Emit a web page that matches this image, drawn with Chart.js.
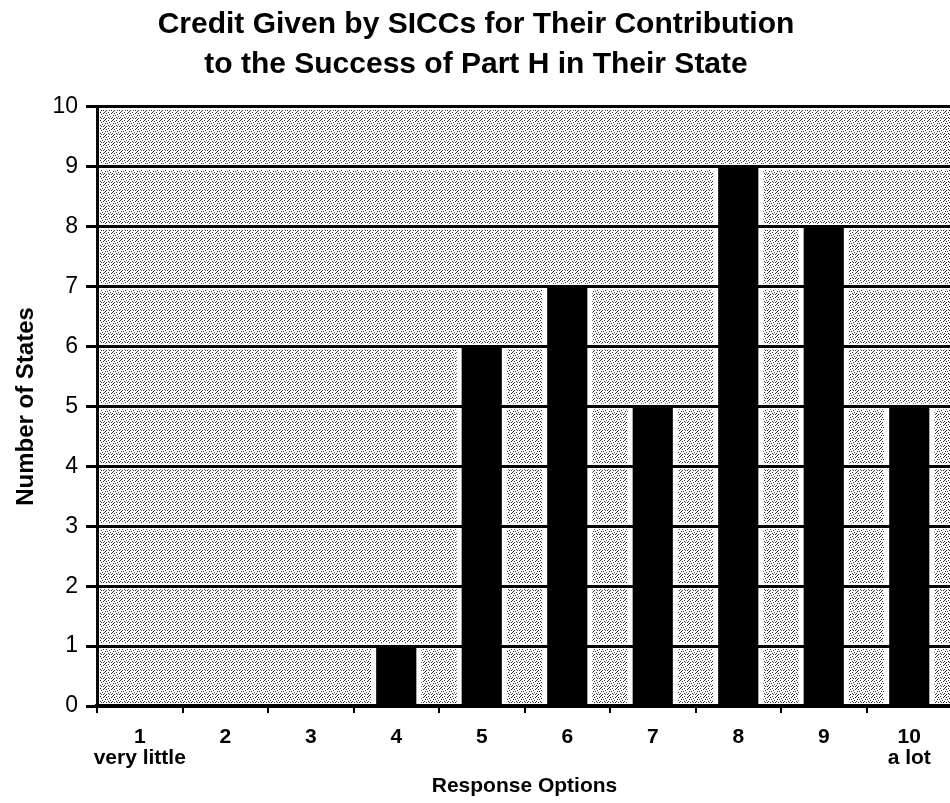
<!DOCTYPE html>
<html>
<head>
<meta charset="utf-8">
<script src="https://cdn.jsdelivr.net/npm/chart.js@4/dist/chart.umd.min.js"></script>
<style>
  html, body { margin: 0; padding: 0; background: #fff; overflow: hidden; }
  #wrap { width: 960px; height: 803px; }
</style>
</head>
<body>
<div id="wrap"><canvas id="c" width="960" height="803"></canvas></div>
<script>
// Survey responses: how many states chose each rating (1 = very little, 10 = a lot)
const responseOptions = [['1', 'very little'], '2', '3', '4', '5', '6', '7', '8', '9', ['10', 'a lot']];
const numberOfStates = [0, 0, 0, 1, 6, 7, 5, 9, 8, 5];
const yTicks = [0, 1, 2, 3, 4, 5, 6, 7, 8, 9, 10];
const titleLines = ['Credit Given by SICCs for Their Contribution', 'to the Success of Part H in Their State'];

const FONT = "'Liberation Sans', Arial, Helvetica, sans-serif";

// Stippled fill used behind the bars
function makeStipple() {
  const rows = [
    '#...#...',
    '..#....#',
    '.....#..',
    '.#.#....',
    '......#.',
    '#...#...',
    '..#..#.#',
    '.#......'
  ];
  const c = document.createElement('canvas');
  c.width = 8; c.height = 8;
  const g = c.getContext('2d');
  g.fillStyle = '#ffffff';
  g.fillRect(0, 0, 8, 8);
  g.fillStyle = '#2e2e2e';
  rows.forEach((r, y) => {
    for (let x = 0; x < r.length; x++) if (r[x] === '#') g.fillRect(x, y, 1, 1);
  });
  return c;
}

const stipplePlugin = {
  id: 'stipple',
  beforeDraw(chart) {
    const { ctx, chartArea, scales } = chart;
    const y = scales.y;
    const gap = 3;
    ctx.save();
    ctx.fillStyle = ctx.createPattern(makeStipple(), 'repeat');
    for (let v = 0; v < 10; v++) {
      const top = y.getPixelForValue(v + 1);
      const bot = y.getPixelForValue(v);
      ctx.fillRect(chartArea.left + gap, top + gap, chartArea.right - chartArea.left, bot - top - 2 * gap);
    }
    // white margin around each bar
    ctx.fillStyle = '#ffffff';
    chart.getDatasetMeta(0).data.forEach((bar, i) => {
      if (numberOfStates[i] <= 0) return;
      const p = bar.getProps(['x', 'y', 'base', 'width'], true);
      ctx.fillRect(p.x - p.width / 2 - 5, p.y, p.width + 10, p.base - p.y);
    });
    ctx.restore();
  }
};

new Chart(document.getElementById('c'), {
  type: 'bar',
  data: {
    labels: responseOptions,
    datasets: [{
      data: numberOfStates,
      backgroundColor: '#000000',
      borderWidth: 0,
      barPercentage: 0.47,
      categoryPercentage: 1
    }]
  },
  plugins: [stipplePlugin],
  options: {
    responsive: false,
    animation: false,
    devicePixelRatio: 1,
    layout: { padding: { left: 0, right: 8, top: 0, bottom: 4 } },
    plugins: {
      legend: { display: false },
      tooltip: { enabled: false },
      title: {
        display: true,
        text: titleLines,
        color: '#000',
        font: { family: FONT, size: 30, weight: 'bold', lineHeight: 1.333 },
        padding: { top: 5, bottom: 22 }
      }
    },
    scales: {
      x: {
        afterFit(axis) { axis.height = 93; },
        grid: { display: true, drawOnChartArea: false, drawTicks: true, tickLength: 7, color: '#000', lineWidth: 2, offset: true },
        border: { display: true, color: '#000', width: 4 },
        ticks: { color: '#000', font: { family: FONT, size: 21, weight: 'bold', lineHeight: 1.0 }, padding: 14, maxRotation: 0, autoSkip: false },
        title: { display: true, text: 'Response Options', color: '#000', font: { family: FONT, size: 21, weight: 'bold' }, padding: { top: 0, bottom: 0 } }
      },
      y: {
        min: 0,
        max: 10,
        afterBuildTicks(axis) { axis.ticks = yTicks.map(v => ({ value: v })); },
        afterFit(axis) { axis.width = 97; },
        grid: { color: '#000', lineWidth: 3, tickLength: 11, drawTicks: true },
        border: { display: true, color: '#000', width: 3 },
        ticks: { color: '#000', font: { family: FONT, size: 23 }, padding: 8 },
        title: { display: true, text: 'Number of States', color: '#000', font: { family: FONT, size: 24, weight: 'bold', lineHeight: 1.2 }, padding: { top: 12, bottom: 0 } }
      }
    }
  }
});
</script>
</body>
</html>
